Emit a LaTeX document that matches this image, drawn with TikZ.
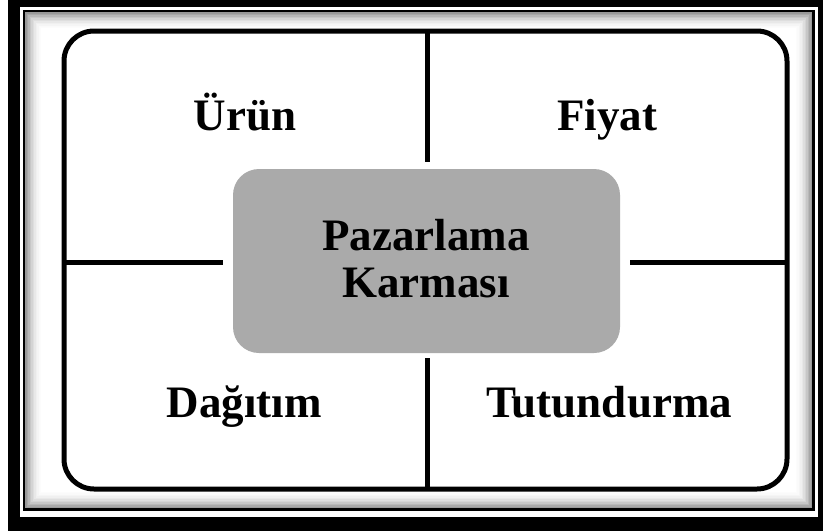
\documentclass[tikz,border=0pt]{standalone}
\usepackage{fontspec}
\setmainfont{Liberation Serif}
\definecolor{boxgray}{HTML}{AAAAAA}
\tikzset{
  lbl/.style={font=\fontsize{45}{47}\selectfont\bfseries, anchor=base, inner sep=0pt},
  frameline/.style={line width=5pt, black},
}
\begin{document}
\begin{tikzpicture}[x=1pt,y=-1pt]
\useasboundingbox (0,0) rectangle (823,531);
% outer thick black frame
\fill[black] (8,0) rectangle (823,531);
\fill[white] (20,7) rectangle (818,517);
% thin line
\fill[black] (23,10) rectangle (815,511);
\fill[black!40] (25,12) rectangle (812,508);
\foreach \i/\c in {1/34,2/28,3/22,4/17,5/13,6/9,7/6,8/4,9/2,10/1}{
  \fill[black!\c] (25+1.5*\i,12+1.5*\i) rectangle (812-1.5*\i,508-1.5*\i);
}
\fill[white] (41,28) rectangle (796,492);
% main rounded rectangle
\node[draw, line width=5pt, rounded corners=30pt, minimum width=723pt, minimum height=458pt, inner sep=0pt] (outer) at (425.5,260) {};
% center box
\node[fill=boxgray, rounded corners=26pt, minimum width=387pt, minimum height=184pt, inner sep=0pt] (center) at (426.5,261) {};
\node[lbl] (pz) at (426,250) {Pazarlama};
\node[lbl] (km) at (426,297) {Karması};
% connectors
\coordinate (t1) at (427,31);
\coordinate (t2) at (427,162);
\coordinate (b1) at (427,358);
\coordinate (b2) at (427,489);
\coordinate (l1) at (64,262);
\coordinate (l2) at (223,262);
\coordinate (r1) at (630,262);
\coordinate (r2) at (787,262);
\draw[frameline] (t1) -- (t2);
\draw[frameline] (b1) -- (b2);
\draw[frameline] (l1) -- (l2);
\draw[frameline] (r1) -- (r2);
% labels
\node[lbl] (urun) at (245,130) {Ürün};
\node[lbl] (fiyat) at (607,130) {Fiyat};
\node[lbl] (dagitim) at (244,417) {Dağıtım};
\node[lbl] (tutun) at (609,417) {Tutundurma};
\end{tikzpicture}
\end{document}
